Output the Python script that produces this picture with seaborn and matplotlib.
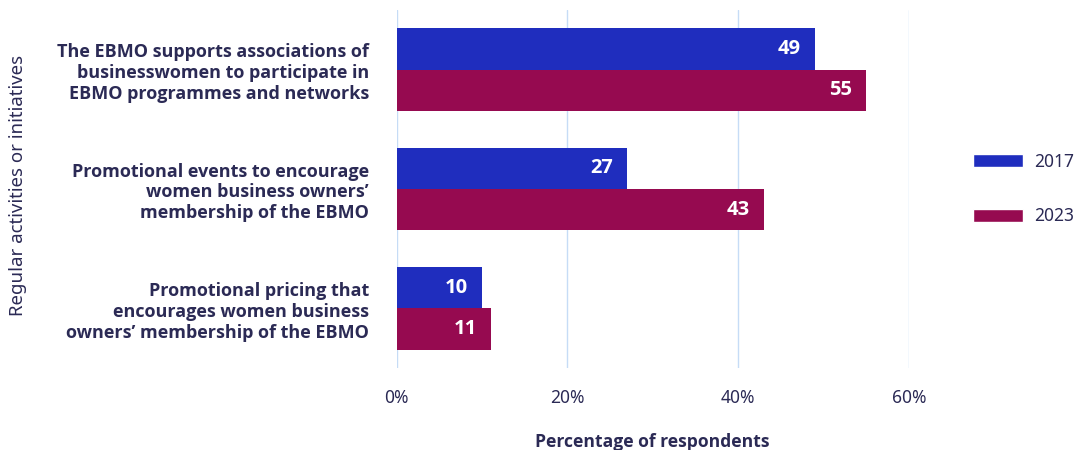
import pandas as pd
import seaborn as sns
import matplotlib.pyplot as plt
from matplotlib import font_manager as fm
from matplotlib.patches import Patch

categories = [
    "The EBMO supports associations of\nbusinesswomen to participate in\nEBMO programmes and networks",
    "Promotional events to encourage\nwomen business owners’\nmembership of the EBMO",
    "Promotional pricing that\nencourages women business\nowners’ membership of the EBMO",
]
years = ["2017", "2023"]
values_2017 = [49, 27, 10]
values_2023 = [55, 43, 11]
x_ticks = [0, 20, 40, 60]

blue = "#1f2dbe"
purple = "#960a50"
ink = "#2b2a55"


def pick_font(bold):
    # find a plain (not condensed, not italic) file of the wanted weight
    for name in ["Noto Sans", "Open Sans", "DejaVu Sans"]:
        for f in fm.fontManager.ttflist:
            if f.name != name or f.style != "normal":
                continue
            if f.stretch not in ("normal", 400):
                continue
            w = f.weight if isinstance(f.weight, int) else {"bold": 700, "normal": 400}.get(f.weight, 400)
            if (bold and w == 700) or (not bold and w == 400):
                return fm.FontProperties(fname=f.fname)
    return fm.FontProperties(family="DejaVu Sans", weight="bold" if bold else "normal")


bold_fp = pick_font(True)
reg_fp = pick_font(False)

df = pd.DataFrame({
    "activity": categories * 2,
    "year": [years[0]] * 3 + [years[1]] * 3,
    "pct": values_2017 + values_2023,
})

sns.set_theme(style="white")
plt.rcParams["font.family"] = ["Noto Sans", "Open Sans", "DejaVu Sans"]

fig = plt.figure(figsize=(10.78, 4.5), dpi=100)
ax = fig.add_axes([0.368, 0.182, 0.475, 0.796])

sns.barplot(data=df, x="pct", y="activity", hue="year", orient="h",
            palette=[blue, purple], width=0.69, ax=ax, legend=False,
            saturation=1, linewidth=0)

for c in ax.containers:
    texts = ax.bar_label(c, labels=[str(int(v)) for v in c.datavalues],
                         padding=-10, color="white")
    for t in texts:
        t.set_horizontalalignment("right")
        t.set_fontproperties(bold_fp)
        t.set_fontsize(14.5)

ax.set_xlim(0, 60)
ax.set_xticks(x_ticks)
ax.set_xticklabels([f"{t}%" for t in x_ticks], color=ink)
for lab in ax.get_xticklabels():
    lab.set_fontproperties(reg_fp)
    lab.set_fontsize(12.5)
ax.tick_params(axis="x", pad=15, length=0)
ax.tick_params(axis="y", length=0, pad=20)
for lab in ax.get_yticklabels():
    lab.set_fontproperties(bold_fp)
    lab.set_color(ink)
    lab.set_fontsize(13)
    lab.set_linespacing(1.2)

ax.grid(axis="x", color="#c6dcf6", linewidth=1)
ax.set_axisbelow(True)
for s in ax.spines.values():
    s.set_visible(False)

ax.set_xlabel("Percentage of respondents", color=ink, labelpad=19)
ax.xaxis.label.set_fontproperties(bold_fp)
ax.xaxis.label.set_fontsize(12.6)
ax.set_ylabel("")
ytitle = fig.text(0.017, 0.587, "Regular activities or initiatives", rotation=90,
                  ha="center", va="center", color=ink)
ytitle.set_fontproperties(reg_fp)
ytitle.set_fontsize(13.4)

leg_fp = reg_fp.copy()
leg_fp.set_size(12.5)
handles = [Patch(facecolor=blue, label=years[0]),
           Patch(facecolor=purple, label=years[1])]
fig.legend(handles=handles, loc="center left", bbox_to_anchor=(0.888, 0.58),
           frameon=False, handlelength=2.9, handleheight=0.75,
           labelspacing=2.1, prop=leg_fp, labelcolor=ink, handletextpad=0.63)

fig.savefig("out.png", dpi=100)
